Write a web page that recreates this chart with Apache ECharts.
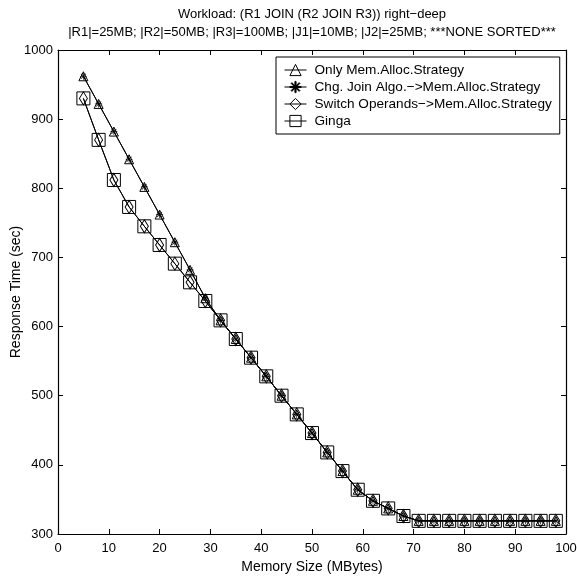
<!DOCTYPE html>
<html>
<head>
<meta charset="utf-8">
<script src="https://cdn.jsdelivr.net/npm/echarts@6/dist/echarts.min.js"></script>
<style>
html,body{margin:0;padding:0;background:#fff;}
#c{width:577px;height:580px;}
</style>
</head>
<body>
<div id="c"></div>
<script>
const titleLines = ['Workload: (R1 JOIN (R2 JOIN R3)) right\u2212deep', '|R1|=25MB; |R2|=50MB; |R3|=100MB; |J1|=10MB; |J2|=25MB; ***NONE SORTED***'];
const seriesNames = ['Only Mem.Alloc.Strategy', 'Chg. Join Algo.\u2212>Mem.Alloc.Strategy', 'Switch Operands\u2212>Mem.Alloc.Strategy', 'Ginga'];
const memorySizes = [5,8,11,14,17,20,23,26,29,32,35,38,41,44,47,50,53,56,59,62,65,68,71,74,77,80,83,86,89,92,95,98];
const onlyMem   = [962,922,882,842,802,762,722,682,641,609,582,555,528,500,473,446,418,391,364,348,337,326,319,319,319,319,319,319,319,319,319,319];
const chgJoin   = [962,922,882,842,802,762,722,682,641,609,582,555,528,500,473,446,418,391,364,348,337,326,319,319,319,319,319,319,319,319,319,319];
const switchOps = [930,870,812,773,745,718,691,664,637,609,582,555,528,500,473,446,418,391,364,348,337,326,319,319,319,319,319,319,319,319,319,319];
const ginga     = [930,870,812,773,745,718,691,664,637,609,582,555,528,500,473,446,418,391,364,348,337,326,319,319,319,319,319,319,319,319,319,319];
const xTicks = [0,10,20,30,40,50,60,70,80,90,100];
const yTicks = [300,400,500,600,700,800,900,1000];

const FONT = 'Liberation Sans';
const asterisk = 'path://M4.5,0 L5.5,0 L5.5,10 L4.5,10 Z M0,4.5 L10,4.5 L10,5.5 L0,5.5 Z M1.1,1.8 L1.8,1.1 L8.9,8.2 L8.2,8.9 Z M8.2,1.1 L8.9,1.8 L1.8,8.9 L1.1,8.2 Z';

function pairs(arr){ return memorySizes.map((x,i)=>[x,arr[i]]); }

function mkSeries(name, data, symbol, size, z){
  return {
    name, type:'line', data:pairs(data), symbol, symbolSize:size, z,
    showAllSymbol:true,
    lineStyle:{color:'#000', width:1},
    itemStyle:{color: symbol===asterisk ? '#000' : 'rgba(255,255,255,0)', borderColor:'#000', borderWidth: symbol===asterisk?0:1},
    emphasis:{disabled:true},
    animation:false
  };
}

const chart = echarts.init(document.getElementById('c'), null, {renderer:'canvas'});
const axisCommon = {
  axisLine:{show:true, onZero:false, lineStyle:{color:'#000', width:1.2}},
  axisTick:{show:true, inside:true, length:5, lineStyle:{color:'#000'}},
  splitLine:{show:false},
  axisLabel:{color:'#000', fontFamily:FONT, fontSize:13}
};
chart.setOption({
  backgroundColor:'#fff',
  animation:false,
  title:{
    text: titleLines.join('\n'),
    left: 307, top: 0, textAlign:'center',
    textStyle:{fontFamily:FONT, fontSize:13, fontWeight:'normal', color:'#000', lineHeight:18}
  },
  legend:{
    data: seriesNames,
    orient:'vertical',
    left: 276, top: 57,
    backgroundColor:'#fff',
    borderColor:'#000', borderWidth:1,
    padding:[6,8,6,8],
    itemGap:3, itemWidth:22, itemHeight:14,
    itemStyle:{borderWidth:1},
    lineStyle:{width:1},
    textStyle:{fontFamily:FONT, fontSize:13.6, color:'#000', padding:[0,0,0,3]}
  },
  grid:{left:58, right:11, top:50, bottom:46, containLabel:false, outerBoundsMode:'none'},
  xAxis:[
    Object.assign({}, axisCommon, {
      type:'value', min:0, max:100, interval:10, position:'bottom',
      name:'Memory Size (MBytes)', nameLocation:'middle', nameGap:26, nameMoveOverlap:false,
      nameTextStyle:{fontFamily:FONT, fontSize:14, color:'#000'},
      axisLabel:{color:'#000', fontFamily:FONT, fontSize:13, margin:8, formatter:v=>xTicks.includes(v)?String(v):''}
    }),
    Object.assign({}, axisCommon, {
      type:'value', min:0, max:100, interval:10, position:'top',
      axisLabel:{show:false}
    })
  ],
  yAxis:[
    Object.assign({}, axisCommon, {
      type:'value', min:300, max:1000, interval:100, position:'left',
      name:'Response Time (sec)', nameLocation:'middle', nameGap:35, nameMoveOverlap:false,
      nameTextStyle:{fontFamily:FONT, fontSize:14, color:'#000'},
      axisLabel:{color:'#000', fontFamily:FONT, fontSize:13, margin:5, formatter:v=>yTicks.includes(v)?String(v):''}
    }),
    Object.assign({}, axisCommon, {
      type:'value', min:300, max:1000, interval:100, position:'right',
      axisLabel:{show:false}
    })
  ],
  series:[
    mkSeries(seriesNames[3], ginga, 'rect', 13, 2),
    mkSeries(seriesNames[2], switchOps, 'diamond', [8,13], 3),
    mkSeries(seriesNames[0], onlyMem, 'triangle', 9, 4),
    mkSeries(seriesNames[1], chgJoin, asterisk, 7, 5)
  ]
});
</script>
</body>
</html>
